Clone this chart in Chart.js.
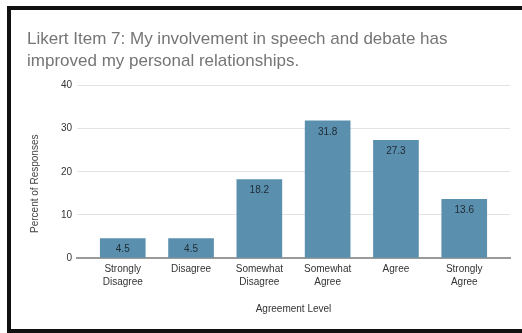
<!DOCTYPE html>
<html>
<head>
<meta charset="utf-8">
<script src="https://cdn.jsdelivr.net/npm/chart.js@4"></script>
<style>
  html, body { margin: 0; padding: 0; background: #fff; overflow: hidden; }
  #moldura {
    position: absolute; left: 7px; top: 6px; width: 600px; height: 327px;
    box-sizing: border-box; border: 4px solid #111; border-right: none;
  }
  #caixa { position: absolute; left: 0; top: 0; width: 522px; height: 333px; }
</style>
</head>
<body>
<div id="moldura"></div>
<div id="caixa"><canvas id="grafico" width="522" height="333"></canvas></div>
<script>
// Dados
const categorias = [
  ["Strongly", "Disagree"],
  "Disagree",
  ["Somewhat", "Disagree"],
  ["Somewhat", "Agree"],
  "Agree",
  ["Strongly", "Agree"]
];
const percentuais = [4.5, 4.5, 18.2, 31.8, 27.3, 13.6];
const ticksY = [0, 10, 20, 30, 40];

const fonte = "'Liberation Sans', Arial, sans-serif";

// Rótulos de valor dentro das barras
const rotulosBarras = {
  id: "rotulosBarras",
  afterDatasetsDraw(chart){
    const c = chart.ctx;
    const meta = chart.getDatasetMeta(0);
    c.save();
    c.font = "10px " + fonte;
    c.fillStyle = "#1f2a33";
    c.textAlign = "center";
    c.textBaseline = "middle";
    meta.data.forEach((barra, i) => {
      c.fillText(percentuais[i].toFixed(1), barra.x, barra.y + 11);
    });
    c.restore();
  }
};

// Título do eixo Y (centrado um pouco abaixo do meio da área)
const tituloY = {
  id: "tituloY",
  afterDraw(chart){
    const c = chart.ctx;
    const y = chart.scales.y;
    c.save();
    c.translate(35, (y.top + y.bottom) / 2 + 12);
    c.rotate(-Math.PI / 2);
    c.font = "10px " + fonte;
    c.fillStyle = "#444";
    c.textAlign = "center";
    c.textBaseline = "middle";
    c.fillText("Percent of Responses", 0, 0);
    c.restore();
  }
};

new Chart(document.getElementById("grafico").getContext("2d"), {
  type: "bar",
  data: {
    datasets: [{
      data: percentuais.map((v, i) => ({ x: i, y: v })),
      backgroundColor: "#5a8fae",
      barThickness: 45
    }]
  },
  options: {
    responsive: false,
    animation: false,
    layout: { padding: { left: 27, right: 12, top: 29, bottom: 18 } },
    plugins: {
      legend: { display: false },
      tooltip: { enabled: false },
      title: {
        display: true,
        align: "start",
        color: "#757575",
        font: { family: fonte, size: 17, weight: "normal", lineHeight: 1.25 },
        padding: { top: 0, bottom: 14 },
        text: ["Likert Item 7: My involvement in speech and debate has", "improved my personal relationships."]
      }
    },
    scales: {
      x: {
        type: "linear",
        offset: false,
        min: -0.67,
        max: 5.67,
        afterBuildTicks: s => { s.ticks = categorias.map((_, i) => ({ value: i })); },
        grid: { display: false, drawTicks: false, offset: false },
        border: { color: "#9a9a9a", width: 2 },
        ticks: {
          padding: 5,
          color: "#333",
          font: { family: fonte, size: 10, lineHeight: 1.25 },
          maxRotation: 0,
          autoSkip: false,
          callback: v => categorias[v]
        },
        title: {
          display: true,
          text: "Agreement Level",
          color: "#333",
          font: { family: fonte, size: 10 },
          padding: { top: 10, bottom: 0 }
        }
      },
      y: {
        min: 0,
        max: 40,
        afterBuildTicks: s => { s.ticks = ticksY.map(v => ({ value: v })); },
        afterFit: s => { s.width = 50; },
        grid: {
          drawTicks: false,
          color: ctx => ctx.tick && ctx.tick.value === 0 ? "rgba(0,0,0,0)" : "#e3e3e3"
        },
        border: { display: false },
        ticks: {
          padding: 5,
          color: "#333",
          font: { family: fonte, size: 10 }
        }
      }
    }
  },
  plugins: [rotulosBarras, tituloY]
});
</script>
</body>
</html>
